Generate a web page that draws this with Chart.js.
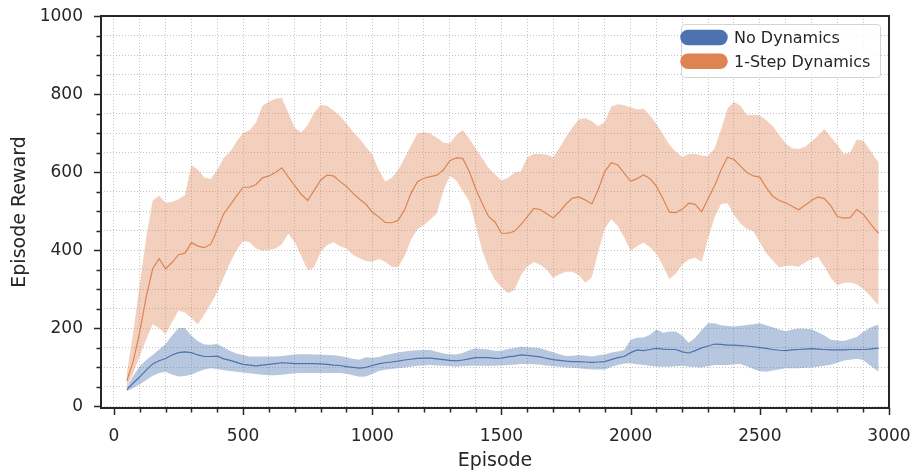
<!DOCTYPE html>
<html><head><meta charset="utf-8">
<script src="https://cdn.jsdelivr.net/npm/chart.js@4.4.1/dist/chart.umd.min.js"></script>
<style>html,body{margin:0;padding:0;background:#fff;}canvas{display:block;}</style>
</head><body>
<canvas id="c" width="914" height="476"></canvas>
<script>
// ---------- data ----------
const seriesNames = ['No Dynamics', '1-Step Dynamics'];
const episodes = [
  50,75,100,125,150,175,200,225,250,275,
  300,325,350,375,400,425,450,475,500,525,
  550,575,600,625,650,675,700,725,750,775,
  800,825,850,875,900,925,950,975,1000,1025,
  1050,1075,1100,1125,1150,1175,1200,1225,1250,1275,
  1300,1325,1350,1375,1400,1425,1450,1475,1500,1525,
  1550,1575,1600,1625,1650,1675,1700,1725,1750,1775,
  1800,1825,1850,1875,1900,1925,1950,1975,2000,2025,
  2050,2075,2100,2125,2150,2175,2200,2225,2250,2275,
  2300,2325,2350,2375,2400,2425,2450,2475,2500,2525,
  2550,2575,2600,2625,2650,2675,2700,2725,2750,2775,
  2800,2825,2850,2875,2900,2925,2950,2960];

const noDynMean = [
  42,59,75,92,108,116,122,131,137,139,
  137,131,127,127,128,121,117,112,107,105,
  103,105,107,109,111,110,109,109,109,109,
  108,107,105,104,101,99,97,99,104,108,
  111,113,115,118,120,122,123,123,121,119,
  117,116,118,121,124,124,124,122,123,126,
  128,131,130,128,126,122,119,117,115,114,
  114,113,112,113,114,119,124,127,137,144,
  142,145,148,146,145,145,139,136,142,149,
  154,159,158,156,156,155,154,152,150,148,
  145,143,142,144,145,146,147,146,145,144,
  144,144,145,145,145,146,148,148];
const noDynUpper = [
  47,78,102,118,131,145,159,181,200,200,
  180,166,158,157,159,150,141,135,131,127,
  127,127,127,127,128,130,132,133,133,132,
  132,131,130,128,125,121,119,125,124,126,
  131,134,137,140,142,143,144,144,139,135,
  133,132,136,143,148,146,145,141,142,146,
  149,152,151,150,148,143,138,133,128,129,
  131,129,127,130,132,137,140,144,170,175,
  176,183,197,188,191,191,180,162,175,195,
  212,212,207,205,204,206,208,210,212,207,
  202,196,192,196,199,198,197,189,181,170,
  168,167,172,177,190,200,207,208];
const noDynLower = [
  38,46,56,67,78,85,88,81,76,77,
  81,88,94,97,95,92,90,88,86,84,
  82,80,79,79,80,82,84,85,85,85,
  85,85,85,85,83,79,75,76,82,90,
  93,95,97,99,101,103,104,105,104,103,
  102,101,102,103,103,103,103,103,104,105,
  106,108,108,107,106,104,102,101,99,98,
  97,95,94,94,94,100,105,109,110,107,
  105,103,101,101,101,102,103,101,100,99,
  102,105,105,105,107,108,102,95,89,88,
  91,94,97,97,97,98,99,101,103,106,
  111,117,119,121,118,105,93,88];

const oneStepMean = [
  65,115,190,280,352,378,352,368,388,392,
  419,410,406,415,452,493,515,539,561,561,
  568,585,590,599,611,587,565,543,527,553,
  579,592,590,576,563,546,531,518,497,485,
  471,470,476,503,546,575,584,588,592,605,
  629,636,635,602,558,520,486,472,443,443,
  448,465,485,507,504,493,482,498,518,533,
  536,528,518,556,601,624,618,597,576,583,
  593,583,563,532,497,496,505,520,517,498,
  532,565,605,638,632,615,599,590,587,560,
  538,527,521,512,503,515,527,536,532,513,
  486,482,483,504,492,470,450,443];
const oneStepUpper = [
  85,190,312,432,527,540,521,524,530,541,
  618,606,586,582,605,636,652,678,700,707,
  727,770,780,788,790,752,713,701,720,752,
  772,770,758,744,725,703,686,665,645,605,
  575,585,605,635,668,699,702,698,688,676,
  673,695,707,686,660,636,610,594,578,585,
  598,602,638,646,646,645,638,662,690,715,
  735,738,730,718,728,768,774,771,766,760,
  762,745,723,697,670,652,639,646,646,642,
  641,660,709,763,780,770,746,747,745,733,
  718,695,673,661,659,665,678,693,710,690,
  670,646,650,683,681,658,633,626];
const oneStepLower = [
  45,85,128,170,210,200,185,215,245,240,
  225,210,235,262,292,330,368,400,423,420,
  404,398,400,404,415,442,420,385,348,356,
  395,413,420,410,404,388,379,372,370,377,
  370,357,356,385,427,453,464,478,494,552,
  590,578,551,525,465,400,355,323,305,289,
  297,335,358,369,362,350,328,338,344,344,
  335,316,330,397,455,479,462,432,398,410,
  419,407,390,360,326,340,363,376,380,370,
  430,484,518,520,490,468,454,448,420,392,
  373,355,360,360,357,368,377,383,358,328,
  310,316,317,312,300,284,265,259];

const xTickLabels = [0,500,1000,1500,2000,2500,3000];
const yTickLabels = [0,200,400,600,800,1000];
const xMinorTicks = []; for (let v = 0; v <= 3000; v += 100) xMinorTicks.push(v);
const yMinorTicks = []; for (let v = 0; v <= 1000; v += 50) yMinorTicks.push(v);

// ---------- style ----------
const INK = '#262626';
const FONT = "'DejaVu Sans', 'Liberation Sans', sans-serif";
const BLUE = '#4c72b0', ORANGE = '#dd8452';
const BLUE_FILL = 'rgba(76,114,176,0.40)', ORANGE_FILL = 'rgba(221,132,82,0.38)';
const GRID = '#c4c4c4';

const pts = arr => episodes.map((e, i) => ({x: e, y: arr[i]}));

const framePlugin = {
  id: 'frame',
  afterDraw(chart) {
    const {ctx, chartArea: a, scales: {x, y}} = chart;
    ctx.save();
    ctx.strokeStyle = INK;
    ctx.lineWidth = 1.5;
    ctx.lineCap = 'butt';
    ctx.beginPath();
    xMinorTicks.forEach(v => {
      const px = Math.round(x.getPixelForValue(v)) + 0.5;
      const len = xTickLabels.includes(v) ? 7 : 4.5;
      ctx.moveTo(px, a.bottom); ctx.lineTo(px, a.bottom + len);
    });
    yMinorTicks.forEach(v => {
      const py = Math.round(y.getPixelForValue(v)) + 0.5;
      const len = yTickLabels.includes(v) ? 7 : 4.5;
      ctx.moveTo(a.left, py); ctx.lineTo(a.left - len, py);
    });
    ctx.stroke();
    // spines
    ctx.lineWidth = 2;
    ctx.strokeRect(a.left, a.top, a.right - a.left, a.bottom - a.top);

    // legend
    const bx = a.right - 208, by = a.top + 8, bw = 199, bh = 53;
    ctx.beginPath();
    ctx.roundRect(bx + 0.5, by + 0.5, bw, bh, 3);
    ctx.fillStyle = 'rgba(255,255,255,0.85)';
    ctx.fill();
    ctx.lineWidth = 1;
    ctx.strokeStyle = '#d4d4d4';
    ctx.stroke();
    const colors = [BLUE, ORANGE];
    const rows = [by + 13.5, by + 37.3];
    ctx.lineCap = 'round';
    ctx.lineWidth = 15.5;
    seriesNames.forEach((name, i) => {
      ctx.strokeStyle = colors[i];
      ctx.beginPath();
      ctx.moveTo(bx + 7, rows[i]); ctx.lineTo(bx + 39, rows[i]);
      ctx.stroke();
      ctx.fillStyle = INK;
      ctx.font = '16px ' + FONT;
      ctx.textAlign = 'left';
      ctx.textBaseline = 'alphabetic';
      ctx.fillText(name, bx + 53, rows[i] + 5.8);
    });
    ctx.restore();
  }
};

new Chart(document.getElementById('c'), {
  type: 'line',
  data: {
    datasets: [
      {label: seriesNames[0], data: pts(noDynMean), borderColor: BLUE, borderWidth: 1.2,
       pointRadius: 0, fill: false, order: 1, tension: 0},
      {label: 'nd_hi', data: pts(noDynUpper), borderWidth: 0, borderColor: 'rgba(0,0,0,0)',
       backgroundColor: BLUE_FILL, pointRadius: 0, fill: '+1', order: 6},
      {label: 'nd_lo', data: pts(noDynLower), borderWidth: 0, borderColor: 'rgba(0,0,0,0)',
       pointRadius: 0, fill: false, order: 6},
      {label: seriesNames[1], data: pts(oneStepMean), borderColor: ORANGE, borderWidth: 1.2,
       pointRadius: 0, fill: false, order: 0, tension: 0},
      {label: 'os_hi', data: pts(oneStepUpper), borderWidth: 0, borderColor: 'rgba(0,0,0,0)',
       backgroundColor: ORANGE_FILL, pointRadius: 0, fill: '+1', order: 5},
      {label: 'os_lo', data: pts(oneStepLower), borderWidth: 0, borderColor: 'rgba(0,0,0,0)',
       pointRadius: 0, fill: false, order: 5}
    ]
  },
  options: {
    responsive: false,
    animation: false,
    devicePixelRatio: 1,
    layout: {padding: {top: 16, right: 25, left: 0, bottom: 0}},
    plugins: {legend: {display: false}, tooltip: {enabled: false}},
    scales: {
      x: {
        type: 'linear', min: -50, max: 3000,
        afterBuildTicks: s => { s.ticks = xMinorTicks.map(v => ({value: v})); },
        afterFit: s => { s.height = 68; s.paddingLeft = 0; s.paddingRight = 0; s.paddingTop = 0; s.paddingBottom = 0; },
        grid: {color: GRID, lineWidth: 1, drawTicks: false, borderDash: [1, 2]},
        border: {display: false, dash: [1, 2]},
        ticks: {autoSkip: false, maxRotation: 0, padding: 18, color: INK,
          font: {family: FONT, size: 17},
          callback: v => xTickLabels.includes(v) ? String(v) : ''},
        title: {display: true, text: 'Episode', color: INK, font: {family: FONT, size: 19},
          padding: {top: 0, bottom: 4}}
      },
      y: {
        type: 'linear', min: -5, max: 1000,
        afterBuildTicks: s => { s.ticks = yMinorTicks.map(v => ({value: v})); },
        afterFit: s => { s.width = 101; s.paddingLeft = 0; s.paddingRight = 0; s.paddingTop = 0; s.paddingBottom = 0; },
        grid: {color: GRID, lineWidth: 1, drawTicks: false, borderDash: [1, 2]},
        border: {display: false, dash: [1, 2]},
        ticks: {autoSkip: false, padding: 18, labelOffset: 1, color: INK,
          font: {family: FONT, size: 17},
          callback: v => yTickLabels.includes(v) ? String(v) : ''},
        title: {display: true, text: 'Episode Reward', color: INK, font: {family: FONT, size: 19},
          padding: {top: 9, bottom: 0}}
      }
    }
  },
  plugins: [framePlugin]
});
</script>
</body></html>
